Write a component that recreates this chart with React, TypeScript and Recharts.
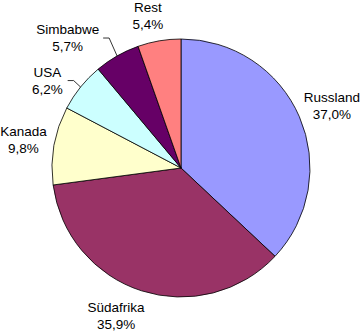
import { PieChart, Pie, Cell } from "recharts"

const laender = ["Russland", "Südafrika", "Kanada", "USA", "Simbabwe", "Rest"]
const anteile = [37.0, 35.9, 9.8, 6.2, 5.7, 5.4]
const farben = ["#9999FF", "#993366", "#FFFFCC", "#CCFFFF", "#660066", "#FF8080"]

const data = laender.map((name, i) => ({ name, value: anteile[i] }))

// Excel hat einige Beschriftungen verschoben (best fit)
const verschiebung: Record<string, [number, number]> = {
  Russland: [4, 2],
  "Südafrika": [-16, -4],
  USA: [-9, 13],
  Simbabwe: [-34, 9],
  Rest: [-6, 6],
}
const mitLinie = ["USA", "Simbabwe"]

const RAD = Math.PI / 180

const formatProzent = (v: number) => v.toFixed(1).replace(".", ",") + "%"

function Beschriftung(props: any) {
  const { cx, cy, midAngle, outerRadius, name, value } = props
  const r = 160
  const [dx, dy] = verschiebung[name] || [0, 0]
  const x = cx + r * Math.cos(-midAngle * RAD) + dx
  const y = cy + r * Math.sin(-midAngle * RAD) + dy
  const text = formatProzent(value)
  let linie = null
  if (mitLinie.includes(name)) {
    const ex = cx + outerRadius * Math.cos(-midAngle * RAD)
    const ey = cy + outerRadius * Math.sin(-midAngle * RAD)
    const halb = Math.max(name.length, text.length) * 3.8
    const kx = x + halb + 11
    const ky = y
    linie = <polyline points={`${ex},${ey} ${kx},${ky} ${x + halb + 5},${ky}`} fill="none" stroke="#000" strokeWidth={0.8} />
  }
  return (
    <g>
      {linie}
      <text x={x} y={y - 4} textAnchor="middle" fontSize={13.5} fontFamily="'Liberation Sans', Arial, sans-serif" fill="#000">{name}</text>
      <text x={x} y={y + 13} textAnchor="middle" fontSize={13.5} fontFamily="'Liberation Sans', Arial, sans-serif" fill="#000">{text}</text>
    </g>
  )
}

export default function App() {
  return (
    <div style={{ position: "absolute", left: 0, top: 0, width: 364, height: 333, background: "#fff" }}>
      <PieChart width={364} height={333} margin={{ top: 0, right: 0, bottom: 0, left: 0 }}>
        <Pie
          data={data}
          dataKey="value"
          nameKey="name"
          cx={181}
          cy={168}
          outerRadius={129}
          startAngle={90}
          endAngle={-270}
          stroke="#000"
          strokeWidth={0.8}
          label={Beschriftung}
          labelLine={false}
          isAnimationActive={false}
        >
          {data.map((d, i) => (
            <Cell key={d.name} fill={farben[i]} />
          ))}
        </Pie>
      </PieChart>
    </div>
  )
}
